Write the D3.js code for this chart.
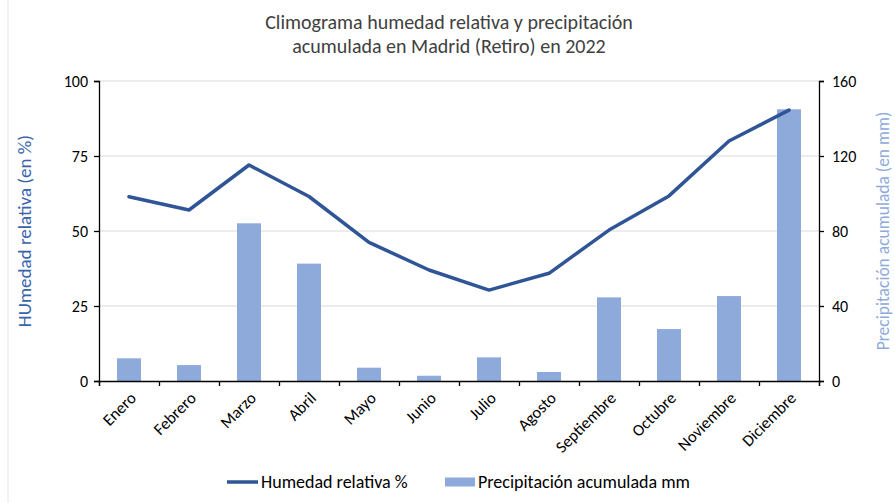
<!DOCTYPE html>
<html>
<head>
<meta charset="utf-8">
<script src="https://cdn.jsdelivr.net/npm/d3@7"></script>
<style>
  body { margin: 0; background: #fff; }
  svg { font-family: Carlito, Calibri, Lato, "Open Sans", sans-serif; }
</style>
</head>
<body>
<div id="chart"></div>
<script>
const meses = ["Enero", "Febrero", "Marzo", "Abril", "Mayo", "Junio",
               "Julio", "Agosto", "Septiembre", "Octubre", "Noviembre", "Diciembre"];
const humedad = [61.4, 57, 72, 61.5, 46.2, 37, 30.3, 35.9, 50.3, 61.7, 80, 90.3];
const precipitacion = [12.1, 8.5, 84.1, 62.6, 7.1, 2.8, 12.6, 4.8, 44.6, 27.7, 45.3, 144.9];
const ticksHumedad = [0, 25, 50, 75, 100];
const ticksPrecip = [0, 40, 80, 120, 160];

const w = 895, h = 503;
const plotLeft = 99, plotRight = 819, plotTop = 81, plotBottom = 381;
const lineColor = "#2f5597";
const barColor = "#8eaadb";

const svg = d3.select("#chart")
              .append("svg")
              .attr("width", w)
              .attr("height", h);

// marco del gráfico (borde izquierdo tenue)
svg.append("line")
   .attr("x1", 8).attr("x2", 8).attr("y1", 0).attr("y2", h)
   .attr("stroke", "#e6e6e6");

const x = d3.scaleBand()
            .domain(meses)
            .range([plotLeft, plotRight])
            .paddingInner(0.6)
            .paddingOuter(0.3);
const xIdx = d3.scaleLinear().domain([0, meses.length]).range([plotLeft, plotRight]);
const yL = d3.scaleLinear().domain([0, 100]).range([plotBottom, plotTop]);
const yR = d3.scaleLinear().domain([0, 160]).range([plotBottom, plotTop]);

// rejilla
svg.append("g")
   .selectAll("line")
   .data(ticksHumedad.slice(1))
   .enter()
   .append("line")
   .attr("x1", plotLeft).attr("x2", plotRight)
   .attr("y1", d => yL(d)).attr("y2", d => yL(d))
   .attr("stroke", "#d9d9d9")
   .attr("stroke-width", 1);

// barras de precipitación
svg.selectAll("rect.bar")
   .data(precipitacion)
   .enter()
   .append("rect")
   .attr("class", "bar")
   .attr("x", (d, i) => x(meses[i]))
   .attr("y", d => yR(d))
   .attr("width", x.bandwidth())
   .attr("height", d => plotBottom - yR(d))
   .attr("fill", barColor);

// línea de humedad
const linea = d3.line()
                .x((d, i) => x(meses[i]) + x.bandwidth() / 2)
                .y(d => yL(d));
svg.append("path")
   .datum(humedad)
   .attr("d", linea)
   .attr("fill", "none")
   .attr("stroke", lineColor)
   .attr("stroke-width", 3.5)
   .attr("stroke-linejoin", "round")
   .attr("stroke-linecap", "round");

// ejes
const yAxisL = d3.axisLeft(yL).tickValues(ticksHumedad).tickSize(5).tickPadding(6);
const yAxisR = d3.axisRight(yR).tickValues(ticksPrecip).tickSize(5).tickPadding(8);
const xAxis = d3.axisBottom(xIdx).tickValues(d3.range(meses.length + 1)).tickFormat("").tickSize(5);

function estilo(g) {
  g.select(".domain").attr("stroke", "#000").attr("stroke-width", 1.3);
  g.selectAll(".tick line").attr("stroke", "#000").attr("stroke-width", 1.3);
  g.selectAll("text").attr("fill", "#000").style("font-size", "16px")
   .style("font-family", "Carlito, Calibri, Lato, sans-serif");
}

svg.append("g")
   .attr("transform", "translate(" + plotLeft + ",0)")
   .call(yAxisL)
   .call(estilo);
svg.append("g")
   .attr("transform", "translate(" + plotRight + ",0)")
   .call(yAxisR)
   .call(estilo);
svg.append("g")
   .attr("transform", "translate(0," + plotBottom + ")")
   .call(xAxis)
   .call(estilo);

// etiquetas de los meses
svg.append("g")
   .selectAll("text")
   .data(meses)
   .enter()
   .append("text")
   .attr("transform", d => "translate(" + (x(d) + x.bandwidth() / 2 + 4) + "," + (plotBottom + 14) + ") rotate(-45)")
   .attr("text-anchor", "end")
   .attr("dy", "0.35em")
   .style("font-size", "16.5px")
   .attr("fill", "#000")
   .text(d => d);

// título
svg.append("text")
   .attr("x", 449).attr("y", 29)
   .attr("text-anchor", "middle")
   .attr("fill", "#404040")
   .style("font-size", "20px")
   .text("Climograma humedad relativa y precipitación");
svg.append("text")
   .attr("x", 449).attr("y", 53)
   .attr("text-anchor", "middle")
   .attr("fill", "#404040")
   .style("font-size", "20px")
   .text("acumulada en Madrid (Retiro) en 2022");

// títulos de ejes
svg.append("text")
   .attr("transform", "translate(31," + (plotTop + plotBottom) / 2 + ") rotate(-90)")
   .attr("text-anchor", "middle")
   .attr("fill", "#3a63ad")
   .style("font-size", "19px")
   .text("HUmedad relativa (en %)");
svg.append("text")
   .attr("transform", "translate(889," + (plotTop + plotBottom) / 2 + ") rotate(-90)")
   .attr("text-anchor", "middle")
   .attr("fill", barColor)
   .style("font-size", "17.5px")
   .text("Precipitación acumulada (en mm)");

// leyenda
const ley = svg.append("g").attr("transform", "translate(0,482)");
ley.append("line")
   .attr("x1", 227).attr("x2", 258).attr("y1", 0).attr("y2", 0)
   .attr("stroke", lineColor).attr("stroke-width", 3.5);
ley.append("text")
   .attr("x", 261).attr("y", 0).attr("dy", "0.35em")
   .style("font-size", "18px").attr("fill", "#000")
   .text("Humedad relativa %");
ley.append("rect")
   .attr("x", 445).attr("y", -4.5).attr("width", 30).attr("height", 9)
   .attr("fill", barColor);
ley.append("text")
   .attr("x", 478).attr("y", 0).attr("dy", "0.35em")
   .style("font-size", "18px").attr("fill", "#000")
   .text("Precipitación acumulada mm");
</script>
</body>
</html>
